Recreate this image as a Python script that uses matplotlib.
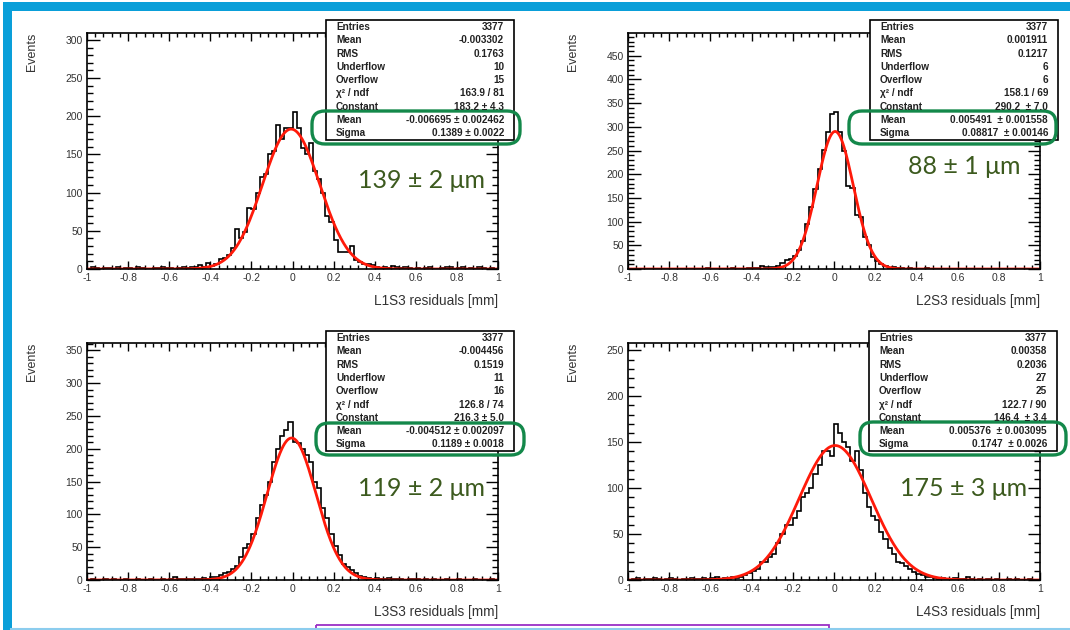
import numpy as np
import matplotlib
matplotlib.use("Agg")
import matplotlib.pyplot as plt
from matplotlib.patches import Rectangle, FancyBboxPatch
from matplotlib.ticker import MultipleLocator, FuncFormatter

plt.rcParams['font.family'] = ['Liberation Sans', 'DejaVu Sans']
plt.rcParams['axes.unicode_minus'] = False

# residual histograms, 100 bins from -1 to 1 mm
bin_edges = np.linspace(-1, 1, 101)

l1s3_counts = [0, 2, 1, 0, 1, 1, 0, 2, 0, 1,
               1, 0, 2, 1, 0, 0, 1, 1, 2, 1,
               1, 0, 1, 2, 1, 3, 2, 5, 3, 8,
               4, 6, 13, 14, 18, 28, 52, 40, 48, 80,
               78, 100, 120, 125, 150, 155, 188, 170, 185, 185,
               206, 185, 158, 150, 165, 128, 118, 100, 70, 62,
               38, 22, 22, 22, 30, 12, 9, 7, 6, 5,
               2, 1, 3, 1, 4, 3, 1, 2, 1, 0,
               1, 0, 1, 2, 0, 0, 1, 3, 2, 0,
               1, 3, 0, 1, 0, 2, 1, 0, 1, 0]

l2s3_counts = [0, 1, 0, 0, 1, 0, 0, 1, 0, 0,
               0, 1, 0, 0, 1, 0, 1, 0, 0, 2,
               0, 1, 0, 1, 0, 2, 1, 0, 1, 2,
               3, 3, 6, 4, 5, 4, 6, 12, 18, 22,
               28, 40, 60, 95, 130, 168, 210, 252, 290, 328,
               332, 290, 248, 175, 170, 115, 110, 68, 50, 26,
               17, 10, 6, 3, 4, 2, 3, 1, 2, 1,
               0, 1, 2, 0, 1, 0, 0, 1, 0, 1,
               0, 0, 1, 0, 0, 1, 0, 0, 0, 1,
               0, 0, 1, 0, 0, 0, 1, 0, 0, 0]

l3s3_counts = [0, 1, 0, 0, 1, 0, 1, 0, 0, 1,
               0, 0, 1, 0, 0, 1, 0, 0, 1, 0,
               2, 4, 1, 2, 1, 1, 2, 1, 3, 2,
               4, 5, 8, 10, 12, 16, 22, 35, 48, 55,
               70, 95, 115, 130, 150, 180, 200, 220, 228, 240,
               210, 208, 200, 190, 180, 150, 140, 110, 95, 70,
               52, 38, 25, 20, 15, 10, 6, 4, 3, 2,
               3, 1, 2, 3, 1, 2, 1, 0, 2, 1,
               1, 0, 1, 0, 1, 0, 0, 1, 0, 0,
               1, 0, 0, 0, 1, 0, 0, 0, 1, 0]

l4s3_counts = [0, 1, 2, 0, 1, 1, 2, 1, 0, 1,
               2, 1, 0, 1, 1, 2, 1, 1, 2, 1,
               2, 3, 1, 2, 1, 3, 2, 3, 5, 8,
               10, 12, 20, 20, 25, 28, 40, 50, 60, 60,
               68, 75, 90, 95, 100, 115, 125, 140, 140, 135,
               170, 160, 150, 145, 130, 140, 120, 95, 80, 70,
               65, 52, 45, 35, 28, 20, 18, 15, 12, 9,
               6, 5, 3, 3, 2, 1, 2, 1, 1, 2,
               1, 1, 3, 1, 0, 1, 0, 1, 0, 1,
               0, 0, 1, 0, 1, 0, 0, 1, 0, 0]

# gaussian fit parameters: constant, mean, sigma
fit_params = [(183.2, -0.006695, 0.1389),
              (290.2, 0.005491, 0.08817),
              (216.3, -0.004512, 0.1189),
              (146.4, 0.005376, 0.1747)]

x_labels = ['L1S3 residuals [mm]', 'L2S3 residuals [mm]',
            'L3S3 residuals [mm]', 'L4S3 residuals [mm]']
y_max = [309, 498, 361, 258]

stat_names = ['Entries', 'Mean', 'RMS', 'Underflow', 'Overflow',
              'χ² / ndf', 'Constant', 'Mean', 'Sigma']
stat_values = [
    ['3377', '-0.003302', '0.1763', '10', '15', '163.9 / 81',
     '183.2 ± 4.3', '-0.006695 ± 0.002462', '0.1389 ± 0.0022'],
    ['3377', '0.001911', '0.1217', '6', '6', '158.1 / 69',
     '290.2  ± 7.0', '0.005491  ± 0.001558', '0.08817  ± 0.00146'],
    ['3377', '-0.004456', '0.1519', '11', '16', '126.8 / 74',
     '216.3 ± 5.0', '-0.004512 ± 0.002097', '0.1189 ± 0.0018'],
    ['3377', '0.00358', '0.2036', '27', '25', '122.7 / 90',
     '146.4  ± 3.4', '0.005376  ± 0.003095', '0.1747  ± 0.0026'],
]
resolutions = ['139 ± 2 μm', '88 ± 1 μm', '119 ± 2 μm', '175 ± 3 μm']

all_counts = [l1s3_counts, l2s3_counts, l3s3_counts, l4s3_counts]

W, H = 1070, 630
fig = plt.figure(figsize=(W / 100, H / 100), dpi=100)
fig.patch.set_facecolor('white')

# pad layout in pixels: left, top, right, bottom of each frame
frames = [(87, 33, 498, 269), (628, 33, 1040, 269),
          (87, 343, 498, 580), (628, 343, 1040, 580)]

fmt = FuncFormatter(lambda v, p: '%g' % round(v, 3))
xfine = np.linspace(-1, 1, 600)

for k, (l, t, r, b) in enumerate(frames):
    ax = fig.add_axes([l / W, 1 - b / H, (r - l) / W, (b - t) / H])
    ax.stairs(all_counts[k], bin_edges, baseline=0, color='black', lw=1.2)
    c, m, s = fit_params[k]
    ax.plot(xfine, c * np.exp(-0.5 * ((xfine - m) / s) ** 2),
            color='#ff1a0a', lw=2.0, solid_capstyle='round')
    ax.set_xlim(-1, 1)
    ax.set_ylim(0, y_max[k])
    ax.xaxis.set_major_locator(MultipleLocator(0.2))
    ax.xaxis.set_minor_locator(MultipleLocator(0.04))
    ax.yaxis.set_major_locator(MultipleLocator(50))
    ax.yaxis.set_minor_locator(MultipleLocator(10))
    ax.xaxis.set_major_formatter(fmt)
    ax.tick_params(axis='both', which='both', direction='in',
                   top=True, right=True, width=1.0, colors='black',
                   labelcolor='#333333', labelsize=7.5)
    ax.tick_params(axis='x', which='major', length=6, pad=3)
    ax.tick_params(axis='x', which='minor', length=3)
    ax.tick_params(axis='y', which='major', length=9, pad=3)
    ax.tick_params(axis='y', which='minor', length=4.5)
    for sp in ax.spines.values():
        sp.set_linewidth(1.2)
    ax.set_ylabel('Events', loc='top', fontsize=9, color='#333333')
    ax.yaxis.set_label_coords(-0.12, 1.0)
    ax.set_xlabel(x_labels[k], loc='right', fontsize=9.8, color='#333333')
    ax.xaxis.set_label_coords(1.0, -0.105)

# overlay in pixel coordinates for stat boxes, highlights and slide border
ov = fig.add_axes([0, 0, 1, 1], zorder=10)
ov.set_xlim(0, W)
ov.set_ylim(H, 0)
ov.axis('off')
ov.patch.set_alpha(0)

stat_boxes = [(326, 20, 514, 140), (870, 20, 1058, 140),
              (326, 331, 514, 451), (869, 331, 1057, 451)]
highlights = [(312, 111, 520, 144), (849, 111, 1056, 144),
              (316, 423, 524, 455), (860, 422, 1066, 455)]
text_pos = [(422, 181), (964, 167), (422, 488), (964, 488)]

for k in range(4):
    x0, y0, x1, y1 = stat_boxes[k]
    ov.add_patch(Rectangle((x0, y0), x1 - x0, y1 - y0, facecolor='white',
                           edgecolor='black', lw=1.2))
    for i, name in enumerate(stat_names):
        yy = y0 + 7 + i * 13.3
        ov.text(x0 + 10, yy, name, fontsize=7.2, fontweight='bold',
                color='#222222', va='center', ha='left')
        ov.text(x1 - 10, yy, stat_values[k][i], fontsize=7.2,
                fontweight='bold', color='#222222', va='center', ha='right')
    hx0, hy0, hx1, hy1 = highlights[k]
    ov.add_patch(FancyBboxPatch((hx0, hy0), hx1 - hx0, hy1 - hy0,
                                boxstyle='round,pad=0,rounding_size=13',
                                facecolor='none', edgecolor='#13884a', lw=2.4))
    ov.text(text_pos[k][0], text_pos[k][1], resolutions[k],
            family=['Lato', 'DejaVu Sans'], fontsize=18, color='#3c5a1e',
            ha='center', va='center')

# slide frame: blue bars, bottom rule and purple box
ov.add_patch(Rectangle((3, 2), W, 9, facecolor='#0a9fd9', edgecolor='none'))
ov.add_patch(Rectangle((3, 2), 8.5, H, facecolor='#0a9fd9', edgecolor='none'))
ov.plot([11, W], [628.5, 628.5], color='#8ccdee', lw=1.5)
ov.add_patch(Rectangle((316, 625), 513, 12, facecolor='none',
                       edgecolor='#9a2fc6', lw=1.3, clip_on=False))

fig.savefig('out.png', dpi=100)
